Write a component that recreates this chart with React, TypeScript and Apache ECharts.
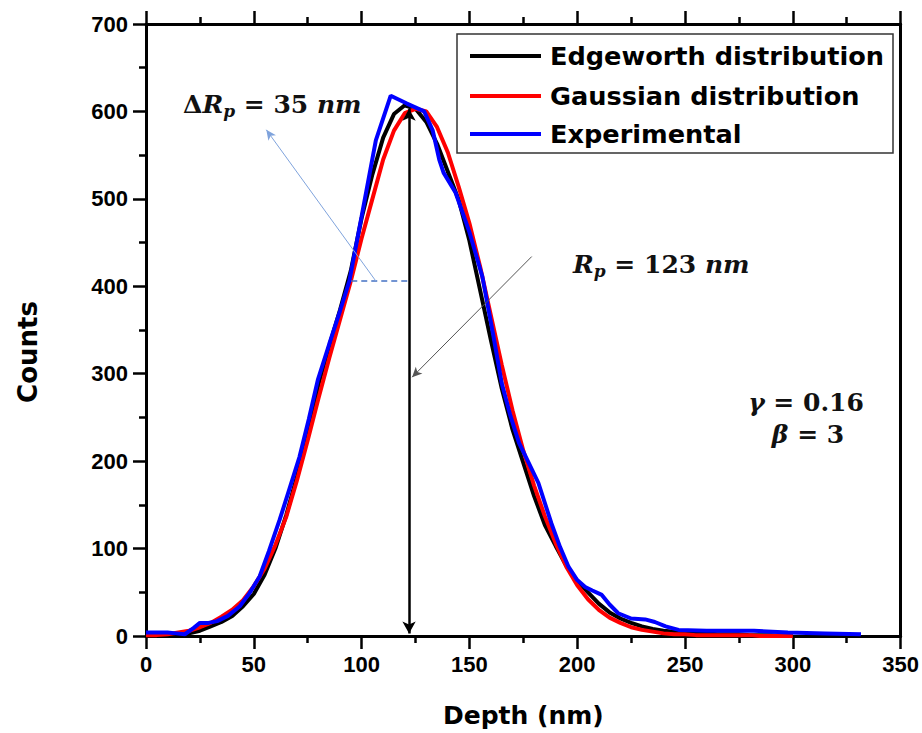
import React, { useEffect, useRef } from 'react';
import * as echarts from 'echarts';

// Depth grid (nm) for fitted distributions
const depthGrid = [
  0, 5, 10, 15, 20, 25, 30, 35, 40, 45,
  50, 55, 60, 65, 70, 75, 80, 85, 90, 95,
  100, 105, 110, 115, 120, 125, 130, 135, 140, 145,
  150, 155, 160, 165, 170, 175, 180, 185, 190, 195,
  200, 205, 210, 215, 220, 225, 230, 235, 240, 245,
  250, 255, 260, 265, 270, 275, 280, 285, 290, 295,
  300,
];

const edgeworthCounts = [
  0, 0, 0, 1, 3, 6, 11, 16, 23, 34,
  48, 70, 100, 138, 182, 232, 288, 332, 373, 418,
  478, 528, 570, 597, 607, 603, 588, 563, 531, 499,
  452, 395, 338, 283, 236, 198, 160, 127, 103, 80,
  63, 50, 37, 27, 20, 15, 11, 8, 6, 5,
  4, 3, 3, 2, 2, 2, 1, 1, 1, 0,
  0,
];

const gaussianCounts = [
  1, 1, 2, 4, 6, 10, 15, 22, 30, 41,
  57, 77, 104, 136, 178, 224, 272, 318, 362, 406,
  455, 500, 545, 578, 598, 603, 600, 582, 553, 514,
  472, 422, 366, 310, 258, 212, 172, 137, 106, 79,
  58, 42, 30, 21, 15, 10, 7, 5, 3, 2,
  2, 1, 1, 1, 1, 1, 1, 0, 0, 0,
  0,
];

// Experimental profile
const expDepth = [
  0, 5, 10, 14, 18, 22, 25, 29, 33, 38,
  43.5, 48, 52.7, 57, 62, 66.5, 71.2, 75.5, 79.7, 85,
  90, 94.3, 100, 106.6, 113.5, 121, 129, 133, 136, 138,
  143.6, 150, 156, 161, 165, 169, 173, 177.5, 182, 188,
  192, 196, 200, 203.7, 207, 211.4, 215, 219, 225, 231.5,
  236, 241, 247, 260, 282, 297.7, 315, 331.6,
];
const expCounts = [
  4, 4, 4, 3, 2, 9, 15, 15, 17, 23,
  34, 49, 68, 97, 133, 168, 205, 248, 293, 334,
  372, 406, 480, 567, 618, 609, 600, 578, 545, 530,
  507, 462, 411, 345, 289, 252, 221, 198, 175, 129,
  102, 79, 64, 56, 52, 47, 36, 26, 20, 19,
  16, 11, 7, 6, 6, 4, 3, 2,
];

const seriesNames = ['Edgeworth distribution', 'Gaussian distribution', 'Experimental'];
const seriesColors = ['#000000', '#ff0000', '#0000ff'];

// Annotation values
const rpDepth = 122;
const rpPeak = 603;
const halfWidthLevel = 406;
const halfWidthLeft = 95.2;

const TICK_FONT = 'Liberation Sans, Arial, sans-serif';
const TITLE_FONT = 'DejaVu Sans, sans-serif';
const MATH_FONT = 'DejaVu Serif, serif';

export default function App() {
  const ref = useRef<HTMLDivElement>(null);

  useEffect(() => {
    if (!ref.current) return;
    const chart = echarts.init(ref.current, undefined, { renderer: 'svg' });

    const axisLine = { show: true, onZero: false, lineStyle: { color: '#000', width: 3 } };
    const axisTick = { show: true, inside: false, length: 13, lineStyle: { color: '#000', width: 2.5 } };
    const minorTick = { show: true, splitNumber: 2, length: 7, lineStyle: { color: '#000', width: 2.5 } };
    const tickLabel = {
      fontSize: 22,
      fontWeight: 'bold' as const,
      fontFamily: TICK_FONT,
      color: '#000',
    };

    const mathRich = {
      a: { fontFamily: MATH_FONT, fontWeight: 'bold', fontSize: 25, fill: '#111', lineHeight: 30 },
      i: { fontFamily: MATH_FONT, fontWeight: 'bold', fontStyle: 'italic', fontSize: 25, fill: '#111', lineHeight: 30 },
      s: { fontFamily: MATH_FONT, fontWeight: 'bold', fontStyle: 'italic', fontSize: 17, fill: '#111', lineHeight: 14, verticalAlign: 'bottom' },
    };

    const legendRows = [56, 96, 134];

    const graphic: any[] = [
      {
        type: 'rect',
        z: 100,
        shape: { x: 457, y: 34, width: 436, height: 119 },
        style: { fill: '#fff', stroke: '#333', lineWidth: 1.5 },
      },
      ...seriesNames.map((name, i) => ({
        type: 'line',
        z: 101,
        shape: { x1: 470, y1: legendRows[i], x2: 541, y2: legendRows[i] },
        style: { stroke: seriesColors[i], lineWidth: 4 },
      })),
      ...seriesNames.map((name, i) => ({
        type: 'text',
        z: 101,
        x: 550,
        y: legendRows[i],
        style: {
          text: name,
          fill: '#000',
          font: `bold 25.6px ${TITLE_FONT}`,
          align: 'left',
          verticalAlign: 'middle',
        },
      })),
      {
        type: 'text',
        z: 101,
        x: 28,
        y: 352,
        rotation: Math.PI / 2,
        style: {
          text: 'Counts',
          fill: '#000',
          font: `bold 26px ${TITLE_FONT}`,
          align: 'center',
          verticalAlign: 'middle',
        },
      },
      {
        type: 'text',
        z: 101,
        x: 183,
        y: 104,
        style: {
          text: '{a|Δ}{i|R}{s|p}{a| = 35 }{i|nm}',
          rich: mathRich,
          align: 'left',
          verticalAlign: 'middle',
        },
      },
      {
        type: 'text',
        z: 101,
        x: 573,
        y: 264,
        style: {
          text: '{i|R}{s|p}{a| = 123 }{i|nm}',
          rich: mathRich,
          align: 'left',
          verticalAlign: 'middle',
        },
      },
      {
        type: 'text',
        z: 101,
        x: 806,
        y: 402,
        style: {
          text: '{i|γ}{a| = 0.16}',
          rich: mathRich,
          align: 'center',
          verticalAlign: 'middle',
        },
      },
      {
        type: 'text',
        z: 101,
        x: 808,
        y: 434,
        style: {
          text: '{i|β}{a| = 3}',
          rich: mathRich,
          align: 'center',
          verticalAlign: 'middle',
        },
      },
    ];

    const option: any = {
      animation: false,
      backgroundColor: '#fff',
      grid: { left: 146, right: 19, top: 24, bottom: 97, containLabel: false },
      xAxis: [
        {
          type: 'value',
          min: 0,
          max: 350,
          interval: 50,
          position: 'bottom',
          axisLine,
          axisTick,
          minorTick,
          splitLine: { show: false },
          axisLabel: { ...tickLabel, margin: 17 },
          name: 'Depth (nm)',
          nameLocation: 'middle',
          nameGap: 67,
          nameTextStyle: { fontSize: 25, fontWeight: 'bold', fontFamily: TITLE_FONT, color: '#000' },
        },
        {
          type: 'value',
          min: 0,
          max: 350,
          interval: 50,
          position: 'top',
          axisLine,
          axisTick,
          minorTick,
          splitLine: { show: false },
          axisLabel: { show: false },
        },
      ],
      yAxis: [
        {
          type: 'value',
          min: 0,
          max: 700,
          interval: 100,
          position: 'left',
          axisLine,
          axisTick,
          minorTick,
          splitLine: { show: false },
          axisLabel: { ...tickLabel, margin: 18 },
        },
        {
          type: 'value',
          min: 0,
          max: 700,
          interval: 100,
          position: 'right',
          axisLine,
          axisTick: { show: false },
          axisLabel: { show: false },
          splitLine: { show: false },
        },
      ],
      graphic,
      series: [
        {
          name: seriesNames[0],
          type: 'line',
          xAxisIndex: 0,
          yAxisIndex: 0,
          symbol: 'none',
          lineStyle: { color: seriesColors[0], width: 4 },
          data: depthGrid.map((d, i) => [d, edgeworthCounts[i]]),
        },
        {
          name: seriesNames[1],
          type: 'line',
          xAxisIndex: 0,
          yAxisIndex: 0,
          symbol: 'none',
          lineStyle: { color: seriesColors[1], width: 4 },
          data: depthGrid.map((d, i) => [d, gaussianCounts[i]]),
        },
        {
          name: seriesNames[2],
          type: 'line',
          xAxisIndex: 0,
          yAxisIndex: 0,
          symbol: 'none',
          lineStyle: { color: seriesColors[2], width: 4 },
          data: expDepth.map((d, i) => [d, expCounts[i]]),
        },
        {
          name: 'annotations',
          type: 'line',
          xAxisIndex: 0,
          yAxisIndex: 0,
          data: [],
          silent: true,
          markLine: {
            silent: true,
            animation: false,
            label: { show: false },
            emphasis: { disabled: true },
            data: [
              [
                { coord: [rpDepth, 3], symbol: 'arrow', symbolSize: [10, 12], lineStyle: { color: '#000', width: 2.5, type: 'solid' } },
                { coord: [rpDepth, rpPeak], symbol: 'arrow', symbolSize: [10, 12] },
              ],
              [
                { coord: [halfWidthLeft, halfWidthLevel], symbol: 'none', lineStyle: { color: '#4472c4', width: 1.5, type: [6, 4] } },
                { coord: [rpDepth, halfWidthLevel], symbol: 'none' },
              ],
              [
                { coord: [106.6, halfWidthLevel], symbol: 'none', lineStyle: { color: '#7fa3dc', width: 1, type: 'solid' } },
                { coord: [55.8, 579], symbol: 'arrow', symbolSize: [7, 10] },
              ],
              [
                { coord: [178.9, 434], symbol: 'none', lineStyle: { color: '#555', width: 1, type: 'solid' } },
                { coord: [123.4, 296], symbol: 'arrow', symbolSize: [7, 10] },
              ],
            ],
          },
        },
      ],
    };

    chart.setOption(option);
    return () => chart.dispose();
  }, []);

  return (
    <div
      ref={ref}
      style={{ position: 'fixed', left: 0, top: 0, width: 922, height: 733, background: '#fff' }}
    />
  );
}
